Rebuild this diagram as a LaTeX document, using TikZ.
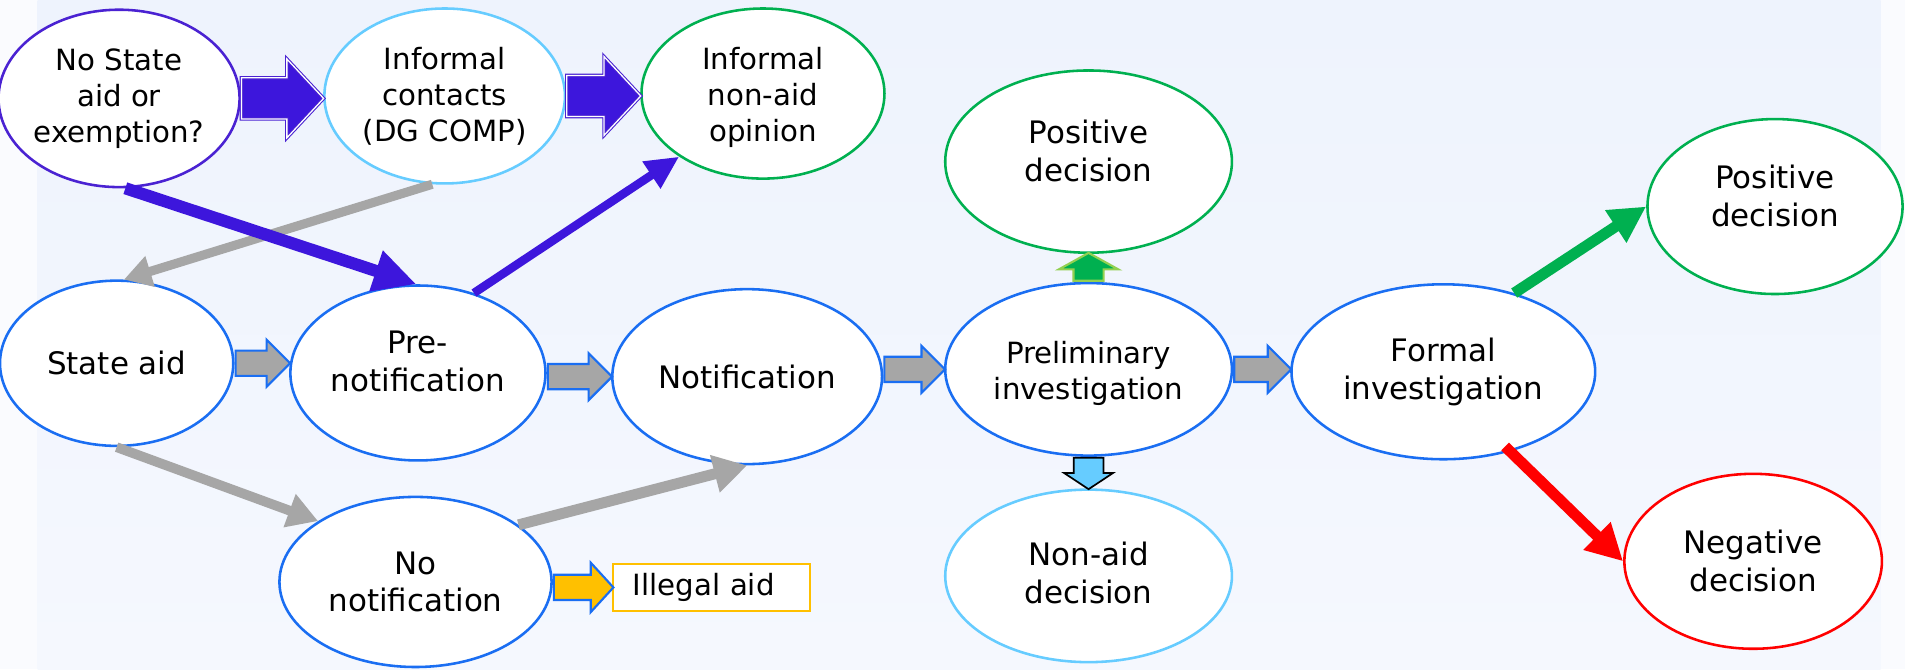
\documentclass[tikz,border=0pt]{standalone}
\usepackage{fontspec}
\setmainfont{DejaVu Sans}
\usetikzlibrary{shapes.geometric,shapes.arrows,arrows.meta,calc}
\definecolor{pur}{HTML}{3D16DC}
\definecolor{purb}{HTML}{4A22D2}
\definecolor{lblue}{HTML}{66CCFF}
\definecolor{grn}{HTML}{00B050}
\definecolor{lgrn}{HTML}{92D050}
\definecolor{blu}{HTML}{1A6EF2}
\definecolor{gry}{HTML}{A6A6A6}
\definecolor{org}{HTML}{FFC000}
\definecolor{rd}{HTML}{FF0000}
\definecolor{bgtop}{HTML}{EEF3FD}
\definecolor{bgbot}{HTML}{F5F8FE}
\definecolor{bgside}{HTML}{FAFBFE}
\newcommand\fbig{\fontsize{14.5}{17.7}\selectfont}
\newcommand\fsml{\fontsize{13.7}{16.8}\selectfont}
\newcommand\lowpad[1]{\rule[-#1]{0pt}{#1}}
\begin{document}
\begin{tikzpicture}[x=0.02cm,y=-0.02cm,
  ell/.style n args={3}{ellipse, draw=#1, fill=white, line width=1.2pt,
    minimum width=#2*0.02cm, minimum height=#3*0.02cm, inner sep=0pt,
    align=center, font=\fbig},
  blkbase/.style={single arrow, anchor=tail, inner xsep=0pt, minimum width=0pt},
  pblk/.style={blkbase, inner ysep=16.5*0.02cm, single arrow head extend=15.5*0.02cm,
    single arrow tip angle=94, fill=pur, draw=purb, line width=0.5pt,
    double=white, double distance=0.6pt},
  gblk/.style={blkbase, inner ysep=9.5*0.02cm, single arrow head extend=9*0.02cm,
    single arrow tip angle=90, fill=gry, draw=blu, line width=1pt},
  oblk/.style={blkbase, inner ysep=9.5*0.02cm, single arrow head extend=10*0.02cm,
    single arrow tip angle=95, fill=org, draw=blu, line width=1pt},
  upblk/.style={blkbase, rotate=90, inner ysep=11.5*0.02cm, single arrow head extend=12*0.02cm,
    single arrow tip angle=122, fill=grn, draw=lgrn, line width=1pt},
  dnblk/.style={blkbase, rotate=-90, inner ysep=11.5*0.02cm, single arrow head extend=8*0.02cm,
    single arrow tip angle=113, fill=lblue, draw=black, line width=0.8pt},
]
\useasboundingbox (0,0) rectangle (1568,551);
\fill[bgside] (0,0) rectangle (1568,551);
\shade[top color=bgtop, bottom color=bgbot] (31,0) rectangle (1548,551);

% nodes
\node[ell={purb}{196}{146}, font=\fsml] (nosa) at (98,81) {No State\\aid or\\exemption?};
\node[ell={lblue}{198}{144}, font=\fsml] (infc) at (366,79) {Informal\\contacts\\(DG COMP)};
\node[ell={grn}{200}{140}, font=\fsml] (info) at (628,77) {\rule{0pt}{14pt}Informal\\non-aid\\opinion};
\node[ell={grn}{236}{150}] (posd1) at (896,133) {Positive\\decision\lowpad{10pt}};
\node[ell={grn}{210}{144}] (posd2) at (1461,170) {Positive\\decision\lowpad{10pt}};
\node[ell={blu}{192}{136}] (sa) at (96,299) {State aid};
\node[ell={blu}{210}{144}] (pn) at (344,307) {Pre-\\notification\lowpad{11pt}};
\node[ell={blu}{222}{144}] (nt) at (615,310) {Notification};
\node[ell={blu}{236}{142}, font=\fsml] (prelim) at (896,304) {\rule{0pt}{14pt}Preliminary\\investigation};
\node[ell={blu}{250}{144}] (formal) at (1188,306) {Formal\\investigation};
\node[ell={blu}{224}{140}] (nn) at (342,479) {No\\notification};
\node[ell={lblue}{236}{142}] (nonaid) at (896,474) {Non-aid\\decision\lowpad{3pt}};
\node[ell={rd}{212}{144}] (negd) at (1443,462) {Negative\\decision};
\node[draw=org, fill=white, line width=1pt, anchor=west, minimum width=162*0.02cm,
  minimum height=39*0.02cm, inner xsep=16*0.02cm, text width=130*0.02cm,
  align=left, font=\fsml] (ill) at (504,483.5) {Illegal aid};

% line arrows
\draw[gry, line width=0.15cm, -{Triangle[length=0.45cm,width=0.5cm]}] (infc.262) -- (sa.85);
\draw[pur, line width=0.2cm, -{Triangle[length=0.7cm,width=0.66cm]}] (nosa.-86) -- (pn.91);
\draw[pur, line width=0.14cm, -{Triangle[length=0.55cm,width=0.5cm]}] (pn.55) -- (info.217);
\draw[gry, line width=0.16cm, -{Triangle[length=0.5cm,width=0.55cm]}] (sa.south) -- (nn.148);
\draw[gry, line width=0.18cm, -{Triangle[length=0.55cm,width=0.6cm]}] (nn.29) -- (nt.south);
\draw[grn, line width=0.18cm, -{Triangle[length=0.6cm,width=0.6cm]}] (formal.48) -- (posd2.west);
\draw[rd, line width=0.18cm, shorten <=-0.12cm, -{Triangle[length=0.6cm,width=0.6cm]}] (formal.-50) -- (negd.west);

% block arrows
\path let \p1=(nosa.east), \p2=(infc.west) in node[pblk, minimum height=\x2-\x1] (b1) at (\p1) {};
\path let \p1=(infc.east), \p2=(info.west) in node[pblk, minimum height=\x2-\x1] (b2) at (\p1) {};
\path let \p1=(sa.east), \p2=(pn.west) in node[gblk, minimum height=\x2-\x1] (b3) at (\p1) {};
\path let \p1=(pn.east |- nt.west), \p2=(nt.west) in node[gblk, minimum height=\x2-\x1] (b4) at (\p1) {};
\path let \p1=(nt.east |- prelim.west), \p2=(prelim.west) in node[gblk, minimum height=\x2-\x1] (b5) at (\p1) {};
\path let \p1=(prelim.east), \p2=(formal.west) in node[gblk, minimum height=\x2-\x1] (b6) at (\p1) {};
\path let \p1=(nn.east |- ill.west), \p2=(ill.west) in node[oblk, minimum height=\x2-\x1] (b7) at (\p1) {};
\path let \p1=(prelim.north), \p2=(posd1.south) in node[upblk, minimum height=\y2-\y1] (b8) at (\p1) {};
\path let \p1=(prelim.south), \p2=(nonaid.north) in node[dnblk, minimum height=\y1-\y2] (b9) at (\p1) {};
\end{tikzpicture}
\end{document}
